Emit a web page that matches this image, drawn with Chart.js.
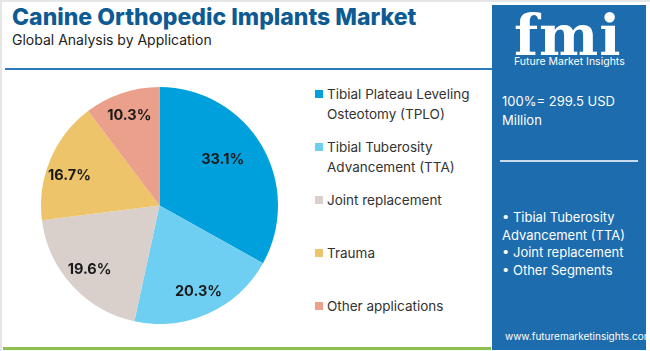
<!DOCTYPE html>
<html><head><meta charset="utf-8">
<script src="https://cdn.jsdelivr.net/npm/chart.js@4"></script>
<style>
html,body{margin:0;padding:0;}
body{width:650px;height:351px;position:relative;overflow:hidden;background:#fff;font-family:"Open Sans",sans-serif;}
#frame{position:absolute;left:0;top:0;width:648px;height:349px;border-left:2px solid #e6e6e6;border-top:2px solid #e6e6e6;}
#title{position:absolute;left:12px;top:3px;font-family:Inter,sans-serif;font-weight:800;font-size:23px;color:#0d5b92;white-space:nowrap;}
#sub{position:absolute;left:12px;top:31px;font-family:Inter,sans-serif;font-size:14px;color:#222;white-space:nowrap;}
#rule{position:absolute;left:5px;top:68px;width:487px;height:2px;background:#2b7bbe;}
#green{position:absolute;left:3px;top:347px;width:488px;height:3px;background:#8cc152;}
#panel{position:absolute;left:492px;top:5px;width:154px;height:345px;background:#1c6cae;color:#fff;font-family:Inter,sans-serif;}
#logo{position:absolute;left:22px;top:2px;font-family:"DejaVu Serif",serif;font-weight:bold;font-size:56px;line-height:56px;color:#fff;letter-spacing:1px;}
#logosub{position:absolute;left:22px;top:50px;font-size:10.5px;color:#fff;white-space:nowrap;}
#total{position:absolute;left:10px;top:87px;font-size:13px;line-height:19px;}
#hr{position:absolute;left:8px;top:155px;width:138px;height:2px;background:#c9dced;}
#bul{position:absolute;left:10px;top:204px;font-size:13px;line-height:17.7px;}
#web{position:absolute;left:13px;top:325px;font-size:10px;white-space:nowrap;}
#pie{position:absolute;left:41px;top:87px;width:237px;height:237px;}
#legend{position:absolute;left:315px;top:84px;font-family:Inter,sans-serif;font-size:13.5px;color:#333;}
.li{position:absolute;left:0;white-space:nowrap;line-height:20px;}
.sw{position:absolute;left:0;top:6px;width:8px;height:8px;}
.tx{position:absolute;left:12px;top:0;}
</style></head><body>
<div id="frame"></div>
<div id="title">Canine Orthopedic Implants Market</div>
<div id="sub">Global Analysis by Application</div>
<div id="rule"></div>
<div id="green"></div>
<div id="panel">
  <div id="logo">fmi</div>
  <div id="logosub">Future Market Insights</div>
  <div id="total">100%= 299.5 USD<br>Million</div>
  <div id="hr"></div>
  <div id="bul">• Tibial Tuberosity<br>Advancement (TTA)<br>• Joint replacement<br>• Other Segments</div>
  <div id="web">www.futuremarketinsights.com</div>
</div>
<div id="pie"><canvas id="c"></canvas></div>
<div id="legend"></div>
<script>
const categories = [
  ["Tibial Plateau Leveling", "Osteotomy (TPLO)"],
  ["Tibial Tuberosity", "Advancement (TTA)"],
  ["Joint replacement"],
  ["Trauma"],
  ["Other applications"]
];
const shares = [33.1, 20.3, 19.6, 16.7, 10.3];
const valueLabels = ["33.1%", "20.3%", "19.6%", "16.7%", "10.3%"];
const colors = ["#00a0dc", "#6fcff2", "#d9d0cc", "#edc46a", "#eba08b"];

const lg = document.getElementById('legend');
categories.forEach((c, i) => {
  const d = document.createElement('div');
  d.className = 'li';
  d.style.top = (i * 53) + 'px';
  d.innerHTML = '<div class="sw" style="background:' + colors[i] + '"></div><div class="tx">' + c.join('<br>') + '</div>';
  lg.appendChild(d);
});

const labelPlugin = {
  id: 'sliceLabels',
  afterDatasetsDraw(chart) {
    const ctx = chart.ctx;
    const meta = chart.getDatasetMeta(0);
    ctx.save();
    ctx.font = 'bold 14.5px Inter, sans-serif';
    ctx.fillStyle = '#1a1a1a';
    ctx.textAlign = 'center';
    ctx.textBaseline = 'middle';
    meta.data.forEach((arc, i) => {
      const p = arc.getProps(['x','y','startAngle','endAngle','outerRadius'], true);
      let mid = (p.startAngle + p.endAngle) / 2;
      let f = 0.8;
      if (i === 0) { f = 0.66; mid -= 0.1; }
      if (i === 3) { mid -= 0.08; }
      const x = p.x + Math.cos(mid) * p.outerRadius * f;
      const y = p.y + Math.sin(mid) * p.outerRadius * f;
      ctx.fillText(valueLabels[i], x, y);
    });
    ctx.restore();
  }
};

new Chart(document.getElementById('c'), {
  type: 'pie',
  data: {
    labels: categories.map(c => c.join(' ')),
    datasets: [{ data: shares, backgroundColor: colors, borderWidth: 0 }]
  },
  options: {
    responsive: true,
    maintainAspectRatio: false,
    animation: false,
    layout: { padding: 0 },
    plugins: { legend: { display: false }, tooltip: { enabled: false } }
  },
  plugins: [labelPlugin]
});
</script>
</body></html>
